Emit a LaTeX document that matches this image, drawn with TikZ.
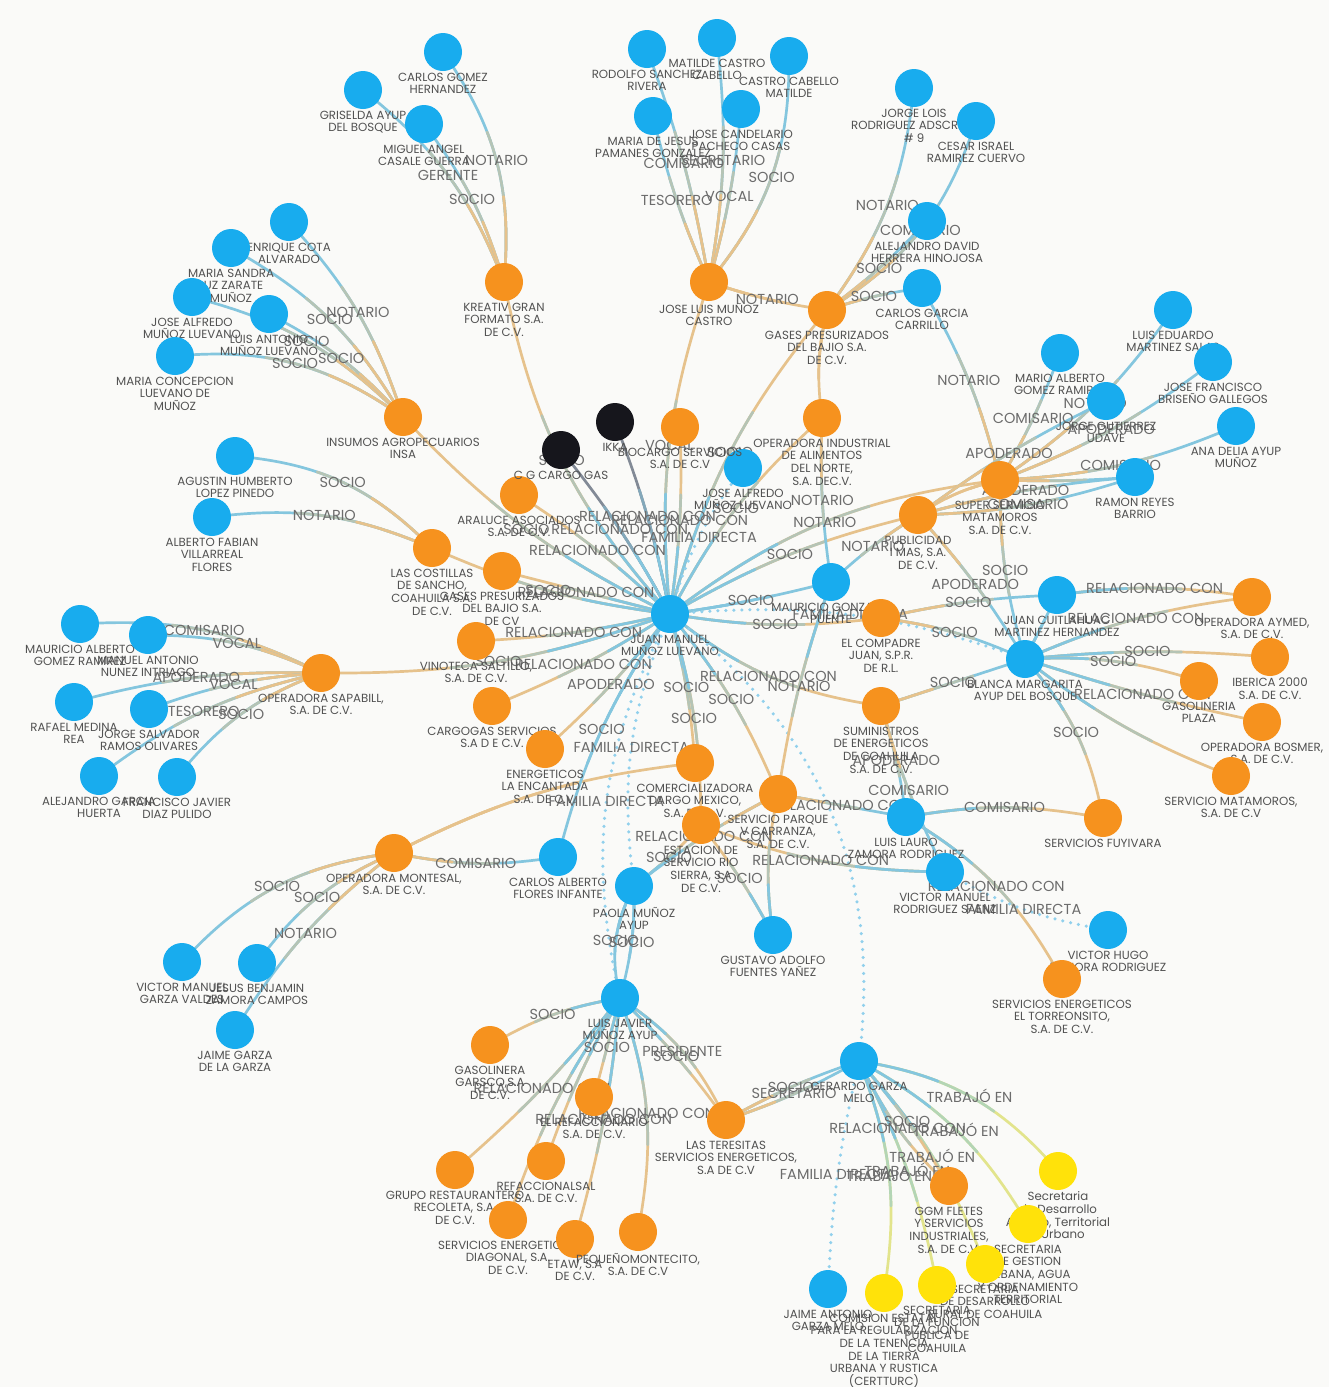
\documentclass[tikz,border=0pt]{standalone}
\usepackage{fontspec}
\setmainfont{Poppins}
\usetikzlibrary{calc}

\definecolor{paper}{RGB}{250,250,248}
\definecolor{pblue}{RGB}{24,172,238}
\definecolor{corange}{RGB}{246,146,30}
\definecolor{cblack}{RGB}{22,22,28}
\definecolor{cyellow}{RGB}{255,226,10}
\definecolor{eb}{RGB}{132,198,222}
\definecolor{eo}{RGB}{230,194,140}
\definecolor{ek}{RGB}{130,138,150}
\definecolor{ey}{RGB}{226,228,140}
\definecolor{dotblue}{RGB}{145,208,236}
\definecolor{lgray}{RGB}{82,82,82}
\definecolor{elgray}{RGB}{108,108,108}

\pgfdeclarelayer{bg}
\pgfdeclarelayer{edges}
\pgfdeclarelayer{elabels}
\pgfsetlayers{bg,edges,elabels,main}

% edge from #1 to #2, bend #3, label #4, colour at #1 end #5, colour at #2 end #6
\newcommand{\linkto}[6]{%
  \path let \p1=($(#1)-(#2)$) in
    \pgfextra{\pgfmathsetmacro\lkd{veclen(\x1,\y1)}%
      \pgfmathsetmacro\lka{0.36*\lkd}\pgfmathsetmacro\lkb{0.64*\lkd}%
      \xdef\lksa{\lka}\xdef\lksb{\lkb}};
  \begin{pgfonlayer}{edges}
    \draw[conn, #6] (#1.center) to[bend right=#3] (#2.center);
    \draw[conn, #5!50!#6, dash pattern=on \lksb pt off 5000pt] (#1.center) to[bend right=#3] (#2.center);
    \draw[conn, #5, dash pattern=on \lksa pt off 5000pt] (#1.center) to[bend right=#3] (#2.center);
  \end{pgfonlayer}
  \begin{pgfonlayer}{elabels}
    \path (#1.center) to[bend right=#3] node[elabel] {#4} (#2.center);
  \end{pgfonlayer}}

% dotted family edge
\newcommand{\famlink}[4]{%
  \begin{pgfonlayer}{edges}
    \draw[famline] (#1.center) to[bend right=#3] (#2.center);
  \end{pgfonlayer}
  \begin{pgfonlayer}{elabels}
    \path (#1.center) to[bend right=#3] node[elabel] {#4} (#2.center);
  \end{pgfonlayer}}

\begin{document}
\begin{tikzpicture}[
        x=1pt, y=-1pt,
        person/.style={circle, fill=pblue, minimum size=38pt, inner sep=0pt},
        company/.style={circle, fill=corange, minimum size=38pt, inner sep=0pt},
        extern/.style={circle, fill=cblack, minimum size=38pt, inner sep=0pt},
        office/.style={circle, fill=cyellow, minimum size=38pt, inner sep=0pt},
        every label/.style={font=\fontsize{11.8}{12.6}\selectfont, text=lgray, align=center, inner sep=0pt},
        label distance=1.5pt,
        conn/.style={line width=2.7pt, line cap=round},
        famline/.style={draw=dotblue, line width=3.5pt, line cap=round, dash pattern=on 0pt off 8pt},
        elabel/.style={font=\fontsize{14.5}{14.5}\selectfont, text=elgray, inner sep=0pt}
    ]

    \begin{pgfonlayer}{bg}
      \fill[paper] (0,0) rectangle (1329,1387);
    \end{pgfonlayer}
    \useasboundingbox (0,0) rectangle (1329,1387);

    % Nodes - people
    \node[person, label={below:{CARLOS GOMEZ\\HERNANDEZ}}] (carlos_gomez) at (443,52) {};
    \node[person, label={below:{GRISELDA AYUP\\DEL BOSQUE}}] (griselda) at (363,90) {};
    \node[person, label={below:{MIGUEL ANGEL\\CASALE GUERRA}}] (miguel_angel) at (424,124) {};
    \node[person, label={below:{RODOLFO SANCHEZ\\RIVERA}}] (rodolfo) at (647,49) {};
    \node[person, label={below:{MATILDE CASTRO\\CABELLO}}] (matilde) at (717,38) {};
    \node[person, label={below:{CASTRO CABELLO\\MATILDE}}] (castro_cabello) at (789,56) {};
    \node[person, label={below:{MARIA DE JESUS\\PAMANES GONZALEZ}}] (maria_jesus) at (653,116) {};
    \node[person, label={below:{JOSE CANDELARIO\\PACHECO CASAS}}] (jose_candelario) at (741,109) {};
    \node[person, label={below:{JORGE LOIS\\RODRIGUEZ ADSCRITO\\\# 9}}] (jorge_lois) at (914,88) {};
    \node[person, label={below:{CESAR ISRAEL\\RAMIREZ CUERVO}}] (cesar_israel) at (976,121) {};
    \node[person, label={below:{ALEJANDRO DAVID\\HERRERA HINOJOSA}}] (alejandro_david) at (927,221) {};
    \node[person, label={below:{CARLOS GARCIA\\CARRILLO}}] (carlos_garcia) at (922,288) {};
    \node[person, label={below:{ENRIQUE COTA\\ALVARADO}}] (enrique_cota) at (289,222) {};
    \node[person, label={below:{MARIA SANDRA\\LUZ ZARATE\\MUÑOZ}}] (maria_sandra) at (231,248) {};
    \node[person, label={below:{JOSE ALFREDO\\MUÑOZ LUEVANO}}] (jose_alfredo) at (192,297) {};
    \node[person, label={below:{LUIS ANTONIO\\MUÑOZ LUEVANO}}] (luis_antonio) at (269,314) {};
    \node[person, label={below:{MARIA CONCEPCION\\LUEVANO DE\\MUÑOZ}}] (maria_concepcion) at (175,356) {};
    \node[person, label={below:{AGUSTIN HUMBERTO\\LOPEZ PINEDO}}] (agustin) at (235,456) {};
    \node[person, label={below:{ALBERTO FABIAN\\VILLARREAL\\FLORES}}] (alberto_fabian) at (212,517) {};
    \node[person, label={below:{MAURICIO ALBERTO\\GOMEZ RAMIREZ}}] (mauricio_alberto) at (80,624) {};
    \node[person, label={below:{MANUEL ANTONIO\\NUNEZ INTRIAGO}}] (manuel_antonio) at (148,635) {};
    \node[person, label={below:{RAFAEL MEDINA\\REA}}] (rafael) at (74,702) {};
    \node[person, label={below:{JORGE SALVADOR\\RAMOS OLIVARES}}] (jorge_salvador) at (149,709) {};
    \node[person, label={below:{ALEJANDRO GARCIA\\HUERTA}}] (alejandro_garcia) at (99,776) {};
    \node[person, label={below:{FRANCISCO JAVIER\\DIAZ PULIDO}}] (francisco_javier) at (177,777) {};
    \node[person, label={below:{VICTOR MANUEL\\GARZA VALDES}}] (victor_garza) at (182,962) {};
    \node[person, label={below:{JESUS BENJAMIN\\ZAMORA CAMPOS}}] (jesus_benjamin) at (257,963) {};
    \node[person, label={below:{JAIME GARZA\\DE LA GARZA}}] (jaime_garza) at (235,1030) {};
    \node[person, label={below:{JUAN MANUEL\\MUÑOZ LUEVANO}}] (juan_manuel) at (670,614) {};
    \node[person, label={below:{JOSE ALFREDO\\MUÑOZ LUEVANO}}] (jose_alfredo_b) at (743,468) {};
    \node[person, label={below:{MAURICIO GONZALEZ\\PUENTE}}] (mauricio_gonz) at (831,582) {};
    \node[person, label={below:{LUIS EDUARDO\\MARTINEZ SALAS}}] (luis_eduardo) at (1173,310) {};
    \node[person, label={below:{MARIO ALBERTO\\GOMEZ RAMIREZ}}] (mario_alberto) at (1060,353) {};
    \node[person, label={below:{JOSE FRANCISCO\\BRISEÑO GALLEGOS}}] (jose_francisco) at (1213,362) {};
    \node[person, label={below:{JORGE GUTIERREZ\\UDAVE}}] (jorge_gutierrez) at (1106,401) {};
    \node[person, label={below:{ANA DELIA AYUP\\MUÑOZ}}] (ana_delia) at (1236,426) {};
    \node[person, label={below:{RAMON REYES\\BARRIO}}] (ramon) at (1135,477) {};
    \node[person, label={below:{JUAN CUITLAHUAC\\MARTINEZ HERNANDEZ}}] (juan_cuitlahuac) at (1057,595) {};
    \node[person, label={below:{BLANCA MARGARITA\\AYUP DEL BOSQUE}}] (blanca) at (1025,659) {};
    \node[person, label={below:{LUIS LAURO\\ZAMORA RODRIGUEZ}}] (luis_lauro) at (906,817) {};
    \node[person, label={below:{VICTOR MANUEL\\RODRIGUEZ SAENZ}}] (victor_rodriguez) at (945,872) {};
    \node[person, label={below:{VICTOR HUGO\\ZAMORA RODRIGUEZ}}] (victor_hugo) at (1108,930) {};
    \node[person, label={below:{CARLOS ALBERTO\\FLORES INFANTE}}] (carlos_alberto) at (558,857) {};
    \node[person, label={below:{PAOLA MUÑOZ\\AYUP}}] (paola) at (634,886) {};
    \node[person, label={below:{GUSTAVO ADOLFO\\FUENTES YAÑEZ}}] (gustavo) at (773,935) {};
    \node[person, label={below:{LUIS JAVIER\\MUÑOZ AYUP}}] (luis_javier) at (620,998) {};
    \node[person, label={below:{GERARDO GARZA\\MELO}}] (gerardo) at (859,1061) {};
    \node[person, label={below:{JAIME ANTONIO\\GARZA MELO}}] (jaime_antonio) at (828,1289) {};

    % Nodes - companies
    \node[company, label={below:{KREATIV GRAN\\FORMATO S.A.\\DE C.V.}}] (kreativ) at (504,282) {};
    \node[company, label={below:{JOSE LUIS MUÑOZ\\CASTRO}}] (jose_luis) at (709,282) {};
    \node[company, label={below:{GASES PRESURIZADOS\\DEL BAJIO S.A.\\DE C.V.}}] (gases_bajio) at (827,310) {};
    \node[company, label={below:{INSUMOS AGROPECUARIOS\\INSA}}] (insumos) at (403,417) {};
    \node[company, label={below:{LAS COSTILLAS\\DE SANCHO,\\COAHUILA S.A.\\DE C.V.}}] (costillas) at (432,548) {};
    \node[company, label={below:{OPERADORA SAPABILL,\\S.A. DE C.V.}}] (sapabill) at (321,673) {};
    \node[company, label={below:{OPERADORA MONTESAL,\\S.A. DE C.V.}}] (montesal) at (394,853) {};
    \node[company, label={below:{BIOCARGO SERVICIOS\\S.A. DE C.V}}] (biocargo) at (680,427) {};
    \node[company, label={below:{OPERADORA INDUSTRIAL\\DE ALIMENTOS\\DEL NORTE,\\S.A. DEC.V.}}] (op_industrial) at (822,418) {};
    \node[company, label={below:{ARALUCE ASOCIADOS\\S.A. DE C.V.}}] (araluce) at (519,495) {};
    \node[company, label={below:{GASES PRESURIZADOS\\DEL BAJIO S.A.\\DE CV}}] (gases_cv) at (502,571) {};
    \node[company, label={below:{VINOTECA SALTILLO,\\S.A. DE C.V.}}] (vinoteca) at (476,641) {};
    \node[company, label={below:{CARGOGAS SERVICIOS\\S.A D E C.V.}}] (cargogas) at (492,706) {};
    \node[company, label={below:{ENERGETICOS\\LA ENCANTADA\\S.A. DE C.V.}}] (encantada) at (545,749) {};
    \node[company, label={below:{COMERCIALIZADORA\\DARGO MEXICO,\\S.A. DE C.V.}}] (dargo) at (695,763) {};
    \node[company, label={below:{SERVICIO PARQUE\\V CARRANZA,\\S.A. DE C.V.}}] (carranza) at (778,794) {};
    \node[company, label={below:{ESTACION DE\\SERVICIO RIO\\SIERRA, S.A\\DE C.V.}}] (rio_sierra) at (701,825) {};
    \node[company, label={below:{EL COMPADRE\\JUAN, S.P.R.\\DE R.L.}}] (compadre) at (881,618) {};
    \node[company, label={below:{PUBLICIDAD\\I MAS, S.A.\\DE C.V.}}] (publicidad) at (918,515) {};
    \node[company, label={below:{SUPER SERVICIO\\MATAMOROS\\S.A. DE C.V.}}] (super_servicio) at (1000,480) {};
    \node[company, label={below:{SUMINISTROS\\DE ENERGETICOS\\DE COAHUILA\\S.A. DE C.V.}}] (suministros) at (881,706) {};
    \node[company, label={below:{OPERADORA AYMED,\\S.A. DE C.V.}}] (aymed) at (1252,597) {};
    \node[company, label={below:{IBERICA 2000\\S.A. DE C.V.}}] (iberica) at (1270,657) {};
    \node[company, label={below:{GASOLINERIA\\PLAZA}}] (gasolineria) at (1199,681) {};
    \node[company, label={below:{OPERADORA BOSMER,\\S.A. DE C.V.}}] (bosmer) at (1262,722) {};
    \node[company, label={below:{SERVICIO MATAMOROS,\\S.A. DE C.V}}] (serv_matamoros) at (1231,776) {};
    \node[company, label={below:{SERVICIOS FUYIVARA}}] (fuyivara) at (1103,818) {};
    \node[company, label={below:{SERVICIOS ENERGETICOS\\EL TORREONSITO,\\S.A. DE C.V.}}] (torreonsito) at (1062,979) {};
    \node[company, label={below:{GASOLINERA\\GARSCO,S.A\\DE C.V.}}] (garsco) at (490,1045) {};
    \node[company, label={below:{EL REFACCIONARIO\\S.A. DE C.V.}}] (refaccionario) at (594,1097) {};
    \node[company, label={below:{LAS TERESITAS\\SERVICIOS ENERGETICOS,\\S.A DE C.V}}] (teresitas) at (726,1120) {};
    \node[company, label={below:{GRUPO RESTAURANTERO\\RECOLETA, S.A.\\DE C.V.}}] (recoleta) at (455,1170) {};
    \node[company, label={below:{REFACCIONALSAL\\S.A. DE C.V.}}] (refaccionalsal) at (546,1161) {};
    \node[company, label={below:{SERVICIOS ENERGETICOS\\DIAGONAL, S.A.\\DE C.V.}}] (diagonal) at (508,1220) {};
    \node[company, label={below:{ETAW, S.A\\DE C.V.}}] (etaw) at (575,1239) {};
    \node[company, label={below:{PEQUEÑOMONTECITO,\\S.A. DE C.V}}] (montecito) at (638,1232) {};
    \node[company, label={below:{GGM FLETES\\Y SERVICIOS\\INDUSTRIALES,\\S.A. DE C.V.}}] (ggm) at (949,1186) {};

    % Nodes - others
    \node[extern, label={below:{C G CARGO GAS}}] (cargo_gas) at (561,450) {};
    \node[extern, label={below:{IKKA}}] (ikka) at (615,422) {};
    \node[office, label={below:{Secretaria\\de Desarrollo\\Agrario, Territorial\\y Urbano}}] (sedatu) at (1058,1171) {};
    \node[office, label={below:{SECRETARIA\\DE GESTION\\URBANA, AGUA\\Y ORDENAMIENTO\\TERRITORIAL}}] (gestion) at (1028,1224) {};
    \node[office, label={below:{SECRETARIA\\DE DESARROLLO\\RURAL DE COAHUILA}}] (desarrollo) at (985,1264) {};
    \node[office, label={below:{SECRETARIA\\DE LA FUNCION\\PUBLICA DE\\COAHUILA}}] (funcion) at (937,1285) {};
    \node[office, label={below:{COMISION ESTATAL\\PARA LA REGULARIZACION\\DE LA TENENCIA\\DE LA TIERRA\\URBANA Y RUSTICA\\(CERTTURC)}}] (certturc) at (884,1293) {};

    % Connections - top
    \linkto{kreativ}{carlos_gomez}{20}{NOTARIO}{eo}{eb}
    \linkto{kreativ}{griselda}{15}{GERENTE}{eo}{eb}
    \linkto{kreativ}{miguel_angel}{10}{SOCIO}{eo}{eb}
    \linkto{jose_luis}{rodolfo}{5}{COMISARIO}{eo}{eb}
    \linkto{jose_luis}{matilde}{8}{SECRETARIO}{eo}{eb}
    \linkto{jose_luis}{castro_cabello}{20}{SOCIO}{eo}{eb}
    \linkto{jose_luis}{maria_jesus}{-5}{TESORERO}{eo}{eb}
    \linkto{jose_luis}{jose_candelario}{5}{VOCAL}{eo}{eb}
    \linkto{jose_luis}{gases_bajio}{5}{NOTARIO}{eo}{eo}
    \linkto{gases_bajio}{jorge_lois}{15}{NOTARIO}{eo}{eb}
    \linkto{gases_bajio}{cesar_israel}{20}{COMISARIO}{eo}{eb}
    \linkto{gases_bajio}{alejandro_david}{5}{SOCIO}{eo}{eb}
    \linkto{gases_bajio}{carlos_garcia}{-5}{SOCIO}{eo}{eb}
    \linkto{gases_bajio}{op_industrial}{10}{}{eo}{eo}

    % Connections - left
    \linkto{insumos}{enrique_cota}{12}{NOTARIO}{eo}{eb}
    \linkto{insumos}{maria_sandra}{15}{SOCIO}{eo}{eb}
    \linkto{insumos}{jose_alfredo}{15}{SOCIO}{eo}{eb}
    \linkto{insumos}{luis_antonio}{10}{SOCIO}{eo}{eb}
    \linkto{insumos}{maria_concepcion}{20}{SOCIO}{eo}{eb}
    \linkto{costillas}{agustin}{20}{SOCIO}{eo}{eb}
    \linkto{costillas}{alberto_fabian}{15}{NOTARIO}{eo}{eb}
    \linkto{sapabill}{mauricio_alberto}{15}{COMISARIO}{eo}{eb}
    \linkto{sapabill}{manuel_antonio}{12}{VOCAL}{eo}{eb}
    \linkto{sapabill}{rafael}{8}{APODERADO}{eo}{eb}
    \linkto{sapabill}{jorge_salvador}{8}{VOCAL}{eo}{eb}
    \linkto{sapabill}{alejandro_garcia}{12}{TESORERO}{eo}{eb}
    \linkto{sapabill}{francisco_javier}{15}{SOCIO}{eo}{eb}
    \linkto{montesal}{victor_garza}{20}{SOCIO}{eo}{eb}
    \linkto{montesal}{jesus_benjamin}{15}{SOCIO}{eo}{eb}
    \linkto{montesal}{jaime_garza}{10}{NOTARIO}{eo}{eb}
    \linkto{montesal}{carlos_alberto}{10}{COMISARIO}{eo}{eb}
    \linkto{montesal}{dargo}{-10}{}{eo}{eo}

    % Connections - centre
    \linkto{juan_manuel}{kreativ}{-15}{SOCIO}{eb}{eo}
    \linkto{juan_manuel}{jose_luis}{-12}{VOCAL}{eb}{eo}
    \linkto{juan_manuel}{gases_bajio}{-12}{SOCIO}{eb}{eo}
    \linkto{juan_manuel}{insumos}{-10}{SOCIO}{eb}{eo}
    \linkto{juan_manuel}{costillas}{-8}{SOCIO}{eb}{eo}
    \linkto{juan_manuel}{sapabill}{-10}{SOCIO}{eb}{eo}
    \linkto{juan_manuel}{cargo_gas}{5}{RELACIONADO CON}{eb}{ek}
    \linkto{juan_manuel}{ikka}{5}{RELACIONADO CON}{eb}{ek}
    \linkto{juan_manuel}{biocargo}{5}{RELACIONADO CON}{eb}{eo}
    \linkto{juan_manuel}{araluce}{5}{RELACIONADO CON}{eb}{eo}
    \linkto{juan_manuel}{gases_cv}{0}{RELACIONADO CON}{eb}{eo}
    \linkto{juan_manuel}{vinoteca}{-5}{RELACIONADO CON}{eb}{eo}
    \linkto{juan_manuel}{cargogas}{-5}{RELACIONADO CON}{eb}{eo}
    \linkto{juan_manuel}{encantada}{-5}{APODERADO}{eb}{eo}
    \linkto{juan_manuel}{op_industrial}{-10}{SOCIO}{eb}{eo}
    \linkto{juan_manuel}{publicidad}{-8}{SOCIO}{eb}{eo}
    \linkto{juan_manuel}{mauricio_gonz}{3}{SOCIO}{eb}{eb}
    \linkto{juan_manuel}{compadre}{8}{SOCIO}{eb}{eo}
    \linkto{juan_manuel}{super_servicio}{-15}{NOTARIO}{eb}{eo}
    \linkto{juan_manuel}{suministros}{15}{RELACIONADO CON}{eb}{eo}
    \linkto{juan_manuel}{dargo}{-5}{SOCIO}{eb}{eo}
    \linkto{juan_manuel}{carranza}{-8}{SOCIO}{eb}{eo}
    \linkto{juan_manuel}{rio_sierra}{-8}{SOCIO}{eb}{eo}
    \linkto{juan_manuel}{carlos_alberto}{10}{SOCIO}{eb}{eb}
    \famlink{juan_manuel}{jose_alfredo_b}{-10}{FAMILIA DIRECTA}
    \famlink{juan_manuel}{paola}{15}{FAMILIA DIRECTA}
    \famlink{juan_manuel}{luis_javier}{20}{FAMILIA DIRECTA}
    \famlink{juan_manuel}{gerardo}{-30}{}
    \famlink{juan_manuel}{blanca}{-12}{FAMILIA DIRECTA}

    % Connections - right
    \linkto{super_servicio}{luis_eduardo}{10}{NOTARIO}{eo}{eb}
    \linkto{super_servicio}{mario_alberto}{5}{COMISARIO}{eo}{eb}
    \linkto{super_servicio}{jose_francisco}{8}{APODERADO}{eo}{eb}
    \linkto{super_servicio}{ana_delia}{10}{COMISARIO}{eo}{eb}
    \linkto{super_servicio}{ramon}{3}{}{eo}{eb}
    \linkto{super_servicio}{carlos_garcia}{8}{NOTARIO}{eo}{eb}
    \linkto{super_servicio}{publicidad}{10}{}{eo}{eo}
    \linkto{super_servicio}{blanca}{8}{SOCIO}{eo}{eb}
    \linkto{publicidad}{jorge_gutierrez}{-5}{APODERADO}{eo}{eb}
    \linkto{publicidad}{ramon}{-5}{APODERADO}{eo}{eb}
    \linkto{publicidad}{ramon}{8}{COMISARIO}{eo}{eb}
    \linkto{publicidad}{blanca}{-5}{APODERADO}{eo}{eb}
    \linkto{publicidad}{mauricio_gonz}{5}{NOTARIO}{eo}{eb}
    \linkto{op_industrial}{mauricio_gonz}{5}{NOTARIO}{eo}{eb}
    \linkto{blanca}{aymed}{-8}{RELACIONADO CON}{eb}{eo}
    \linkto{juan_cuitlahuac}{aymed}{-8}{RELACIONADO CON}{eb}{eo}
    \linkto{blanca}{iberica}{-5}{SOCIO}{eb}{eo}
    \linkto{blanca}{gasolineria}{-10}{SOCIO}{eb}{eo}
    \linkto{blanca}{bosmer}{3}{RELACIONADO CON}{eb}{eo}
    \linkto{blanca}{serv_matamoros}{8}{}{eb}{eo}
    \linkto{blanca}{fuyivara}{-15}{SOCIO}{eb}{eo}
    \linkto{blanca}{juan_cuitlahuac}{0}{}{eb}{eb}
    \linkto{compadre}{juan_cuitlahuac}{-5}{SOCIO}{eo}{eb}
    \linkto{compadre}{blanca}{-8}{SOCIO}{eo}{eb}
    \linkto{suministros}{blanca}{0}{SOCIO}{eo}{eb}

    % Connections - lower middle
    \linkto{luis_lauro}{fuyivara}{-10}{COMISARIO}{eb}{eo}
    \linkto{luis_lauro}{torreonsito}{-15}{RELACIONADO CON}{eb}{eo}
    \linkto{suministros}{luis_lauro}{-5}{APODERADO}{eo}{eb}
    \linkto{suministros}{victor_rodriguez}{5}{COMISARIO}{eo}{eb}
    \linkto{carranza}{luis_lauro}{0}{RELACIONADO CON}{eo}{eb}
    \famlink{victor_rodriguez}{victor_hugo}{10}{FAMILIA DIRECTA}
    \linkto{victor_rodriguez}{rio_sierra}{-10}{RELACIONADO CON}{eb}{eo}
    \linkto{gustavo}{rio_sierra}{5}{SOCIO}{eb}{eo}
    \linkto{gustavo}{carranza}{-10}{}{eb}{eo}
    \linkto{paola}{rio_sierra}{5}{SOCIO}{eb}{eo}
    \linkto{carranza}{paola}{5}{RELACIONADO CON}{eo}{eb}
    \linkto{mauricio_gonz}{carranza}{5}{NOTARIO}{eb}{eo}

    % Connections - bottom
    \linkto{paola}{luis_javier}{20}{SOCIO}{eb}{eb}
    \linkto{paola}{luis_javier}{-8}{SOCIO}{eb}{eb}
    \linkto{luis_javier}{garsco}{10}{SOCIO}{eb}{eo}
    \linkto{luis_javier}{refaccionario}{0}{SOCIO}{eb}{eo}
    \linkto{luis_javier}{teresitas}{-15}{PRESIDENTE}{eb}{eo}
    \linkto{luis_javier}{teresitas}{-5}{SOCIO}{eb}{eo}
    \linkto{luis_javier}{recoleta}{-5}{RELACIONADO CON}{eb}{eo}
    \linkto{luis_javier}{refaccionalsal}{5}{}{eb}{eo}
    \linkto{luis_javier}{diagonal}{8}{}{eb}{eo}
    \linkto{luis_javier}{etaw}{-5}{RELACIONADO CON}{eb}{eo}
    \linkto{luis_javier}{montecito}{-15}{RELACIONADO CON}{eb}{eo}
    \linkto{teresitas}{gerardo}{5}{SECRETARIO}{eo}{eb}
    \linkto{teresitas}{gerardo}{-5}{SOCIO}{eo}{eb}
    \linkto{gerardo}{sedatu}{-20}{TRABAJÓ EN}{eb}{ey}
    \linkto{gerardo}{gestion}{-15}{TRABAJÓ EN}{eb}{ey}
    \linkto{gerardo}{desarrollo}{-10}{TRABAJÓ EN}{eb}{ey}
    \linkto{gerardo}{funcion}{-8}{TRABAJÓ EN}{eb}{ey}
    \linkto{gerardo}{certturc}{-15}{TRABAJÓ EN}{eb}{ey}
    \linkto{gerardo}{ggm}{-5}{SOCIO}{eb}{eo}
    \linkto{gerardo}{ggm}{10}{RELACIONADO CON}{eb}{eo}
    \famlink{gerardo}{jaime_antonio}{5}{FAMILIA DIRECTA}

\end{tikzpicture}
\end{document}
